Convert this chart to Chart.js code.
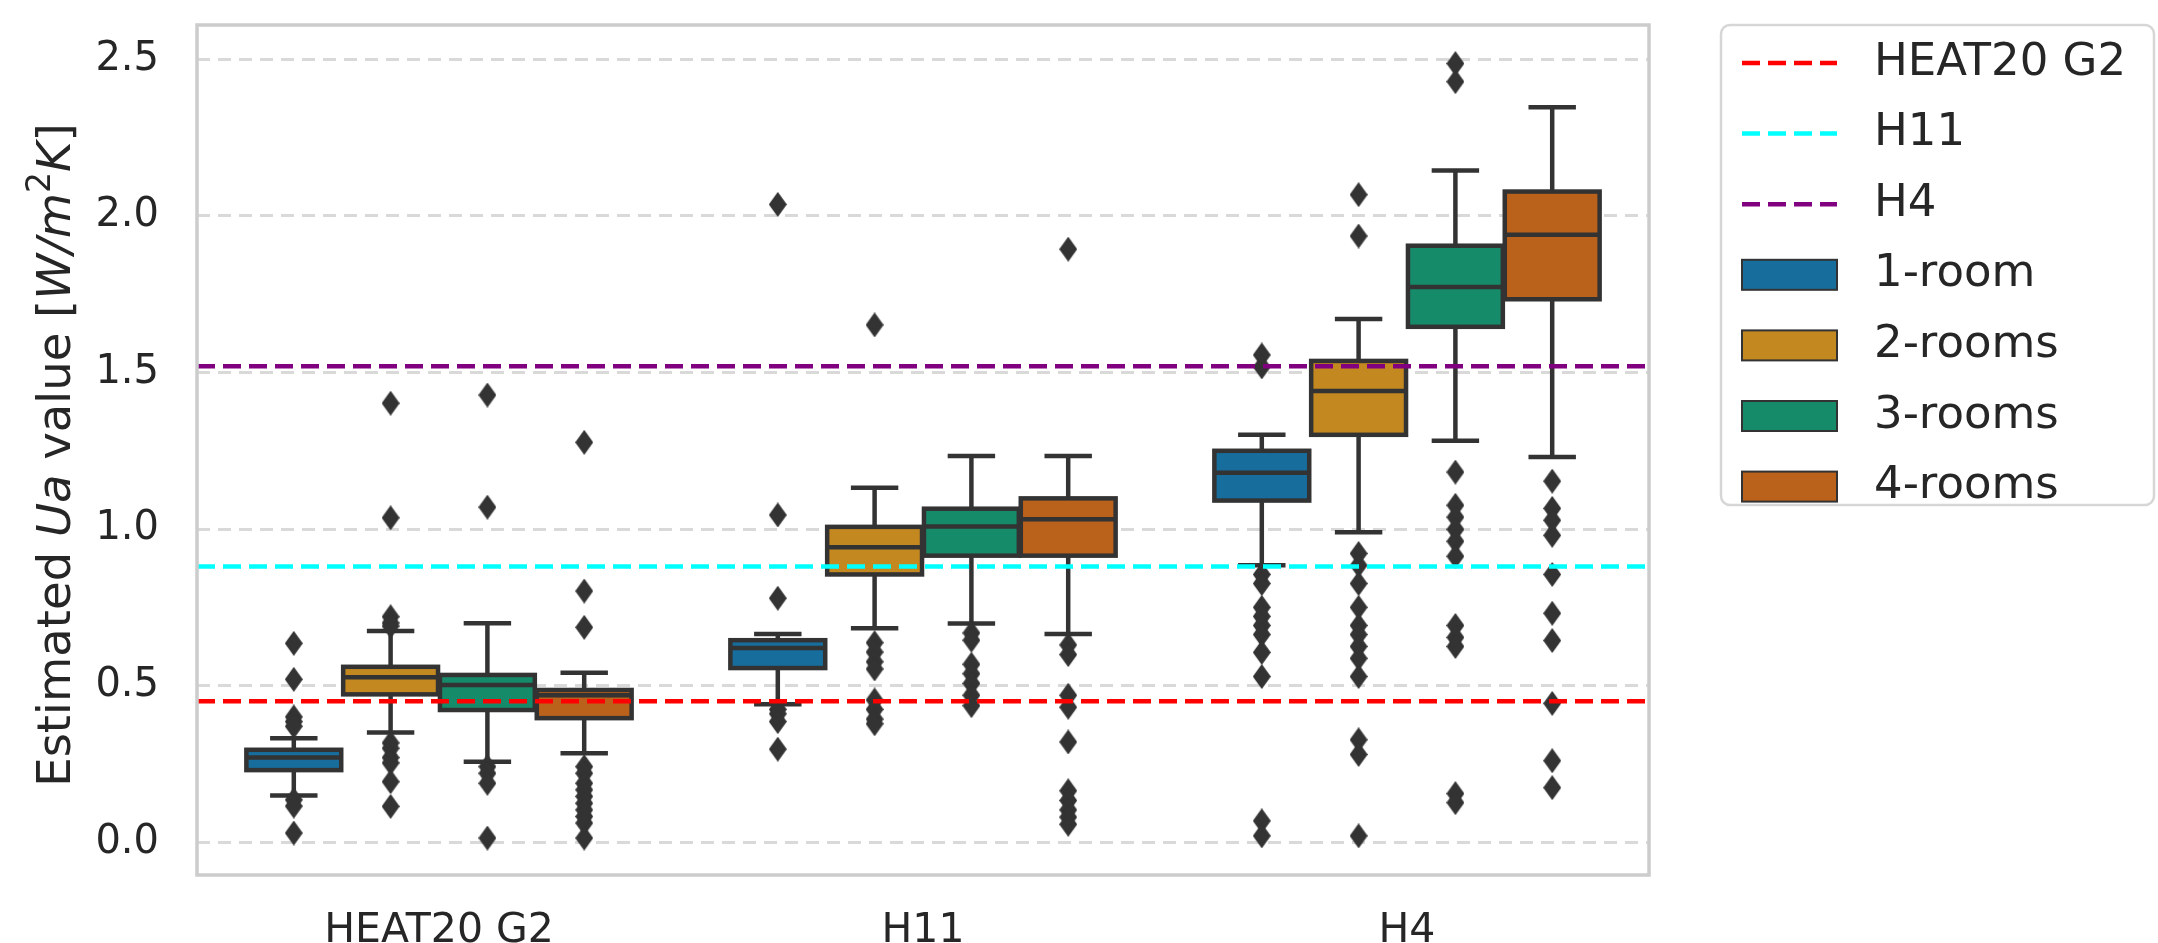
<!DOCTYPE html>
<html>
<head>
<meta charset="utf-8">
<title>Estimated Ua value by standard and room count</title>
<script src="https://cdn.jsdelivr.net/npm/chart.js@4.4.0/dist/chart.umd.min.js"></script>
<style>
  html, body { margin: 0; padding: 0; background: #ffffff; }
  #wrap { width: 2158px; height: 943px; }
</style>
</head>
<body>
<div id="wrap"><canvas id="myChart" width="2158" height="943"></canvas></div>
<script>
// categories and hue levels
const groups = ['HEAT20 G2', 'H11', 'H4'];
const rooms = ['1-room', '2-rooms', '3-rooms', '4-rooms'];

// box stats, one row per room type, one value per group
const q1Values  = [[0.230, 0.556, 1.091], [0.472, 0.855, 1.301], [0.422, 0.915, 1.646], [0.396, 0.915, 1.734]];
const medValues = [[0.270, 0.620, 1.180], [0.527, 0.942, 1.441], [0.502, 1.008, 1.773], [0.469, 1.031, 1.940]];
const q3Values  = [[0.295, 0.645, 1.250], [0.560, 1.007, 1.537], [0.534, 1.065, 1.905], [0.486, 1.098, 2.078]];
const loWhisker = [[0.149, 0.440, 0.884], [0.350, 0.683, 0.990], [0.257, 0.698, 1.282], [0.284, 0.665, 1.230]];
const hiWhisker = [[0.332, 0.665, 1.301], [0.674, 1.132, 1.671], [0.699, 1.233, 2.145], [0.541, 1.233, 2.347]];

// fliers, per room type then per group
const fliers1Room = [
  [0.635, 0.520, 0.400, 0.385, 0.370, 0.135, 0.115, 0.029],
  [2.037, 1.045, 0.779, 0.424, 0.410, 0.385, 0.297],
  [1.556, 1.518, 0.855, 0.826, 0.750, 0.721, 0.692, 0.663, 0.606, 0.529, 0.068, 0.020]
];
const fliers2Rooms = [
  [1.402, 1.036, 0.720, 0.700, 0.690, 0.317, 0.300, 0.270, 0.253, 0.193, 0.114],
  [1.652, 0.637, 0.607, 0.576, 0.553, 0.454, 0.424, 0.393, 0.378],
  [2.068, 1.936, 0.922, 0.884, 0.826, 0.750, 0.692, 0.663, 0.625, 0.587, 0.529, 0.327, 0.280, 0.020]
];
const fliers3Rooms = [
  [1.428, 1.070, 0.241, 0.220, 0.188, 0.013],
  [0.668, 0.645, 0.568, 0.538, 0.507, 0.469, 0.436],
  [2.487, 2.429, 1.182, 1.076, 1.038, 0.999, 0.961, 0.913, 0.692, 0.654, 0.625, 0.155, 0.126]
];
const fliers4Rooms = [
  [1.277, 0.802, 0.686, 0.241, 0.220, 0.188, 0.167, 0.146, 0.124, 0.103, 0.082, 0.061, 0.013],
  [1.894, 0.630, 0.599, 0.469, 0.431, 0.320, 0.164, 0.133, 0.103, 0.080, 0.057],
  [1.153, 1.066, 1.028, 0.980, 0.855, 0.731, 0.644, 0.443, 0.260, 0.174]
];
const fliers = [fliers1Room, fliers2Rooms, fliers3Rooms, fliers4Rooms];

// reference standards (horizontal lines)
const refNames = ['HEAT20 G2', 'H11', 'H4'];
const refValues = [0.45, 0.88, 1.52];

const yTicks = [0, 0.5, 1.0, 1.5, 2.0, 2.5];
const yMin = -0.105;
const yMax = 2.61;

// styles
const roomColors = ['#176d9c', '#c38820', '#168b6a', '#ba611b'];
const refColors = ['#ff0000', '#00ffff', '#800080'];
const edgeColor = '#333333';
const textColor = '#262626';
const fontFamily = "'DejaVu Sans', 'Liberation Sans', sans-serif";

Chart.defaults.font.family = fontFamily;
Chart.defaults.color = textColor;

// seaborn dodge: hue h sits at group + (h - 1.5) * 0.2
const dodge = (i, h) => i + (h - 1.5) * 0.2;

// thin diamond marker like matplotlib 'd'
function thinDiamond(w, h, color) {
  const c = document.createElement('canvas');
  c.width = w;
  c.height = h;
  const g = c.getContext('2d');
  g.fillStyle = color;
  g.beginPath();
  g.moveTo(w / 2, 0);
  g.lineTo(w, h / 2);
  g.lineTo(w / 2, h);
  g.lineTo(0, h / 2);
  g.closePath();
  g.fill();
  return c;
}
const diamond = thinDiamond(18, 25, edgeColor);

// datasets
let datasets = [];

rooms.forEach((room, h) => {
  datasets.push({
    type: 'bar',
    label: room,
    data: groups.map((g, i) => ({ x: dodge(i, h), y: [q1Values[h][i], q3Values[h][i]] })),
    backgroundColor: roomColors[h],
    borderWidth: 0,
    grouped: false,
    categoryPercentage: 1,
    barPercentage: 0.98,
    order: 3
  });
});

rooms.forEach((room, h) => {
  let pts = [];
  groups.forEach((g, i) => {
    fliers[h][i].forEach(v => {
      pts.push({ x: dodge(i, h), y: v });
    });
  });
  datasets.push({
    type: 'scatter',
    label: room + ' fliers',
    data: pts,
    pointStyle: diamond,
    pointRadius: 9,
    order: 2
  });
});

refNames.forEach((name, r) => {
  datasets.push({
    type: 'line',
    label: name,
    data: [{ x: -0.5, y: refValues[r] }, { x: 2.5, y: refValues[r] }],
    borderColor: refColors[r],
    borderWidth: 4.5,
    borderDash: [18, 8],
    pointRadius: 0,
    fill: false,
    order: 1
  });
});

// box outline, whiskers, caps and medians drawn right after each box dataset
const boxParts = {
  id: 'boxParts',
  afterDatasetDraw(chart, args) {
    const h = args.index;
    if (h > 3) return;
    const y = chart.scales.y;
    const ctx = chart.ctx;
    ctx.save();
    ctx.strokeStyle = edgeColor;
    ctx.lineWidth = 4.5;
    ctx.lineCap = 'butt';
    ctx.lineJoin = 'miter';
    const seg = (x1, y1, x2, y2) => {
      ctx.beginPath();
      ctx.moveTo(x1, y1);
      ctx.lineTo(x2, y2);
      ctx.stroke();
    };
    args.meta.data.forEach((bar, i) => {
      const x = bar.x;
      const w = bar.width;
      const yq1 = y.getPixelForValue(q1Values[h][i]);
      const yq3 = y.getPixelForValue(q3Values[h][i]);
      const ylo = y.getPixelForValue(loWhisker[h][i]);
      const yhi = y.getPixelForValue(hiWhisker[h][i]);
      const ymed = y.getPixelForValue(medValues[h][i]);
      ctx.strokeRect(x - w / 2, yq3, w, yq1 - yq3);
      seg(x, yq1, x, ylo);
      seg(x, yq3, x, yhi);
      seg(x - w / 4, ylo, x + w / 4, ylo);
      seg(x - w / 4, yhi, x + w / 4, yhi);
      seg(x - w / 2, ymed, x + w / 2, ymed);
    });
    ctx.restore();
  }
};

// y title with mathtext style italics
const yTitle = {
  id: 'yTitle',
  afterDraw(chart) {
    const ctx = chart.ctx;
    const a = chart.chartArea;
    const size = 46.5;
    const parts = [
      { t: 'Estimated ', f: 'normal' },
      { t: 'Ua', f: 'italic' },
      { t: ' value ', f: 'normal' },
      { t: '[', f: 'normal' },
      { t: 'W/m', f: 'italic' },
      { t: '2', f: 'sup' },
      { t: 'K', f: 'italic' },
      { t: ']', f: 'normal' }
    ];
    const fontOf = p => p.f === 'italic' ? 'italic ' + size + 'px ' + fontFamily
      : p.f === 'sup' ? Math.round(size * 0.7) + 'px ' + fontFamily
      : size + 'px ' + fontFamily;
    ctx.save();
    let total = 0;
    parts.forEach(p => { ctx.font = fontOf(p); p.w = ctx.measureText(p.t).width; total += p.w; });
    ctx.translate(70, (a.top + a.bottom) / 2 + 5);
    ctx.rotate(-Math.PI / 2);
    ctx.fillStyle = textColor;
    ctx.textBaseline = 'alphabetic';
    let x = -total / 2;
    parts.forEach(p => {
      ctx.font = fontOf(p);
      ctx.fillText(p.t, x, p.f === 'sup' ? -size * 0.42 : 0);
      x += p.w;
    });
    ctx.restore();
  }
};

// axes frame and legend box on the right
const frameAndLegend = {
  id: 'frameAndLegend',
  afterDraw(chart) {
    const ctx = chart.ctx;
    const a = chart.chartArea;
    ctx.save();
    ctx.strokeStyle = '#cccccc';
    ctx.lineWidth = 3.5;
    ctx.setLineDash([]);
    ctx.strokeRect(a.left, a.top, a.right - a.left, a.bottom - a.top);

    const bx = 1721, by = 25, bw = 433, bh = 480;
    ctx.beginPath();
    ctx.roundRect(bx, by, bw, bh, 9);
    ctx.fillStyle = 'rgba(255,255,255,0.8)';
    ctx.fill();
    ctx.strokeStyle = '#d6d6d6';
    ctx.lineWidth = 2.5;
    ctx.stroke();

    const rowY = i => 63 + i * 70.6;
    const x0 = 1742, x1 = 1837, tx = 1874;
    ctx.font = '45px ' + fontFamily;
    ctx.textBaseline = 'middle';
    ctx.textAlign = 'left';

    refNames.forEach((name, r) => {
      const yy = rowY(r);
      ctx.strokeStyle = refColors[r];
      ctx.lineWidth = 4.5;
      ctx.setLineDash([18, 8]);
      ctx.beginPath();
      ctx.moveTo(x0, yy);
      ctx.lineTo(x1, yy);
      ctx.stroke();
      ctx.setLineDash([]);
      ctx.fillStyle = textColor;
      ctx.fillText(name, tx, yy);
    });

    rooms.forEach((room, h) => {
      const yy = rowY(h + 3);
      ctx.fillStyle = roomColors[h];
      ctx.fillRect(x0, yy - 15, x1 - x0, 30);
      ctx.strokeStyle = edgeColor;
      ctx.lineWidth = 2;
      ctx.strokeRect(x0, yy - 15, x1 - x0, 30);
      ctx.fillStyle = textColor;
      ctx.fillText(room, tx, yy);
    });
    ctx.restore();
  }
};

let myChart = document.getElementById('myChart').getContext('2d');

let chart = new Chart(myChart, {
  type: 'bar',
  data: {
    datasets: datasets
  },
  options: {
    responsive: false,
    animation: false,
    devicePixelRatio: 1,
    events: [],
    layout: {
      padding: { top: 25, right: 509, bottom: 0, left: 0 }
    },
    plugins: {
      legend: { display: false },
      tooltip: { enabled: false },
      title: { display: false }
    },
    scales: {
      x: {
        type: 'linear',
        position: 'bottom',
        min: -0.5,
        max: 2.5,
        offset: false,
        grid: { display: false, offset: false },
        border: { display: false },
        ticks: {
          color: textColor,
          font: { size: 41 },
          padding: 24,
          maxRotation: 0,
          autoSkip: false,
          callback: v => groups[v]
        },
        afterBuildTicks(s) { s.ticks = groups.map((g, i) => ({ value: i })); },
        afterFit(s) { s.height = 68; s.paddingLeft = 0; s.paddingRight = 0; }
      },
      y: {
        type: 'linear',
        min: yMin,
        max: yMax,
        grid: { color: '#d9d9d9', lineWidth: 3, drawTicks: false },
        border: { display: false, dash: [13, 8] },
        ticks: {
          color: textColor,
          font: { size: 40 },
          padding: 38,
          callback: v => v.toFixed(1)
        },
        afterBuildTicks(s) { s.ticks = yTicks.map(v => ({ value: v })); },
        afterFit(s) { s.width = 197; s.paddingTop = 0; s.paddingBottom = 0; }
      }
    }
  },
  plugins: [boxParts, yTitle, frameAndLegend]
});
</script>
</body>
</html>
